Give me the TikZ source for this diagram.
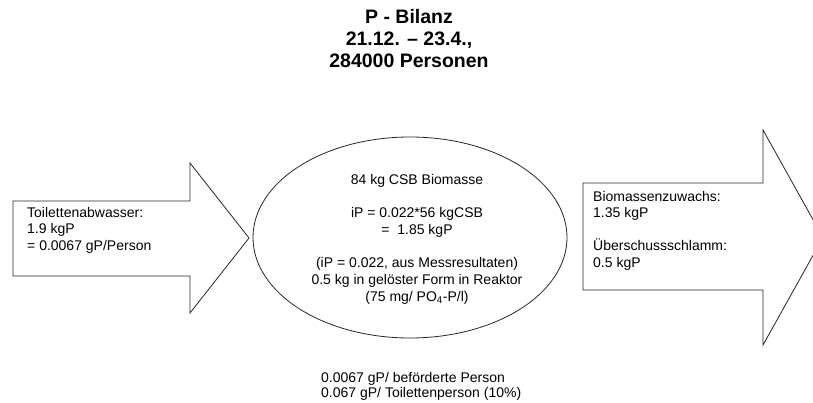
\documentclass[tikz,border=0pt]{standalone}
\usepackage{fontspec}
\setmainfont{Liberation Sans}
\usetikzlibrary{shapes.geometric}
\begin{document}
\begin{tikzpicture}[x=1pt,y=-1pt,
  shapeline/.style={draw=black!85,line width=0.8pt},
  bodytext/.style={inner sep=0pt,font=\fontsize{14}{16.5}\selectfont},
  titletext/.style={inner sep=0pt,align=center,font=\fontsize{19.5}{22}\selectfont\bfseries}]
\useasboundingbox (0,0) rectangle (813,403);
\clip (0,0) rectangle (813,403);
% block arrows
\draw[shapeline] (13,201) -- (190,201) -- (190,163) -- (249,238) -- (190,313) -- (190,276) -- (13,276) -- cycle;
\draw[shapeline] (583,183) -- (763,183) -- (763,130) -- (823,237.5) -- (763,345) -- (763,290) -- (583,290) -- cycle;
% reactor
\node[shapeline,ellipse,minimum width=314pt,minimum height=201pt,inner sep=0pt] (reactor) at (410,237.5) {};
% texts
\node[titletext,anchor=north] (title) at (409,9) {P - Bilanz\\21.12. – 23.4.,\\284000 Personen};
\node[bodytext,align=left,anchor=north west] (intext) at (27,207) {Toilettenabwasser:\\1.9 kgP\\= 0.0067 gP/Person};
\node[bodytext,align=center,anchor=north,font=\fontsize{14}{16.7}\selectfont] (reactortext) at (417,174) {84 kg CSB Biomasse\\[16.7pt]iP = 0.022*56 kgCSB\\=~~1.85 kgP\\[16.7pt](iP = 0.022, aus Messresultaten)\\0.5 kg in gelöster Form in Reaktor\\(75 mg/ PO\textsubscript{4}-P/l)};
\node[bodytext,align=left,anchor=north west] (outtext) at (593,191) {Biomassenzuwachs:\\1.35 kgP\\[16.5pt]Überschussschlamm:\\0.5 kgP};
\node[bodytext,align=left,anchor=north west,font=\fontsize{14}{15.5}\selectfont] (note) at (321,372) {0.0067 gP/ beförderte Person\\0.067 gP/ Toilettenperson (10\%)};
\end{tikzpicture}
\end{document}
